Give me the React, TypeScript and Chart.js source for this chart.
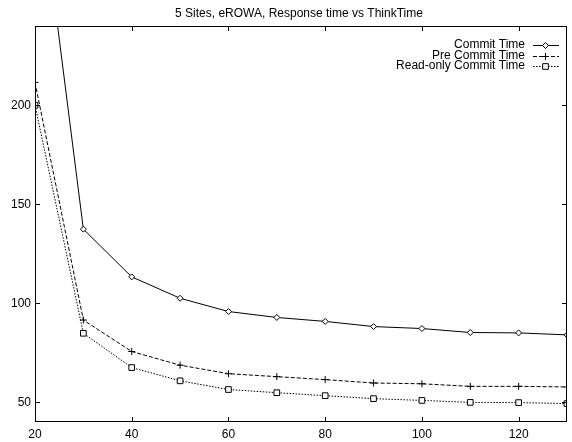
import React, { useEffect, useRef } from 'react';
import { Chart, registerables } from 'chart.js';

Chart.register(...registerables);

const TITLE = '5 Sites, eROWA, Response time vs ThinkTime';
const thinkTimes = [20, 30, 40, 50, 60, 70, 80, 90, 100, 110, 120, 130];
const commitTime = [330, 137.4, 113.3, 102.5, 95.8, 92.8, 90.8, 88.2, 87.2, 85.2, 85.0, 84.0];
const preCommitTime = [211.5, 91.5, 75.6, 68.7, 64.4, 62.9, 61.4, 59.7, 59.3, 58.0, 58.0, 57.7];
const readOnlyCommitTime = [200, 84.8, 67.5, 60.8, 56.4, 54.8, 53.3, 51.8, 50.9, 49.9, 49.8, 49.3];
const xTicks = [20, 40, 60, 80, 100, 120];
const yTicks = [50, 100, 150, 200];
const seriesLabels = ['Commit Time', 'Pre Commit Time', 'Read-only Commit Time'];
const seriesValues = [commitTime, preCommitTime, readOnlyCommitTime];

const FONT = "'Liberation Sans', Arial, Helvetica, sans-serif";
const FS = 12;
const pointStyles = ['rectRot', 'cross', 'rect'];
const pointRadii = [3, 3.5, 4];
const dashes: number[][] = [[], [4, 2], [1.5, 1.5]];

function drawMarker(ctx: CanvasRenderingContext2D, style: string, x: number, y: number, r: number) {
  ctx.save();
  ctx.setLineDash([]);
  ctx.beginPath();
  if (style === 'rectRot') {
    ctx.moveTo(x, y - r);
    ctx.lineTo(x + r, y);
    ctx.lineTo(x, y + r);
    ctx.lineTo(x - r, y);
    ctx.closePath();
    ctx.fillStyle = '#fff';
    ctx.fill();
  } else if (style === 'cross') {
    ctx.moveTo(x - r, y);
    ctx.lineTo(x + r, y);
    ctx.moveTo(x, y - r);
    ctx.lineTo(x, y + r);
  } else {
    const s = r * Math.SQRT1_2;
    ctx.rect(x - s, y - s, 2 * s, 2 * s);
    ctx.fillStyle = '#fff';
    ctx.fill();
  }
  ctx.stroke();
  ctx.restore();
}

const framePlugin = {
  id: 'gnuFrame',
  afterDraw(chart: any) {
    const { ctx, chartArea } = chart;
    const { left, right, top, bottom } = chartArea;
    const xs = chart.scales.x;
    const ys = chart.scales.y;
    ctx.save();
    ctx.strokeStyle = '#000';
    ctx.lineWidth = 1;
    ctx.setLineDash([]);
    ctx.strokeRect(left + 0.5, top + 0.5, right - left - 1, bottom - top - 1);
    const tl = 5;
    ctx.beginPath();
    xTicks.forEach((v) => {
      const px = Math.round(xs.getPixelForValue(v)) + 0.5;
      ctx.moveTo(px, bottom);
      ctx.lineTo(px, bottom - tl);
      ctx.moveTo(px, top);
      ctx.lineTo(px, top + tl);
    });
    yTicks.forEach((v) => {
      const py = Math.round(ys.getPixelForValue(v)) + 0.5;
      ctx.moveTo(left, py);
      ctx.lineTo(left + tl, py);
      ctx.moveTo(right, py);
      ctx.lineTo(right - tl, py);
    });
    ctx.stroke();

    // title
    ctx.fillStyle = '#000';
    ctx.font = `${FS}px ${FONT}`;
    ctx.textAlign = 'center';
    ctx.textBaseline = 'middle';
    ctx.fillText(TITLE, 299, 14);

    // key
    seriesLabels.forEach((label, i) => {
      const y = 45 + i * 10.5;
      ctx.textAlign = 'right';
      ctx.fillText(label, 525, y);
      const ly = Math.round(y) + 0.5;
      ctx.beginPath();
      ctx.setLineDash(dashes[i]);
      ctx.moveTo(533, ly);
      ctx.lineTo(559, ly);
      ctx.stroke();
      drawMarker(ctx, pointStyles[i], 545.5, ly, pointRadii[i]);
    });
    ctx.restore();
  },
};

export default function App() {
  const ref = useRef<HTMLCanvasElement | null>(null);
  useEffect(() => {
    document.body.style.margin = '0';
    const canvas = ref.current;
    if (!canvas) return;
    const datasets = seriesLabels.map((label, i) => ({
      label,
      data: thinkTimes.map((t, j) => ({ x: t, y: seriesValues[i][j] })),
      borderColor: '#000',
      backgroundColor: '#fff',
      borderWidth: 1,
      borderDash: dashes[i],
      pointStyle: pointStyles[i],
      pointRadius: pointRadii[i],
      pointBorderColor: '#000',
      pointBackgroundColor: '#fff',
      pointBorderWidth: 1,
      tension: 0,
      fill: false,
    }));
    const chart = new Chart(canvas, {
      type: 'line',
      data: { datasets },
      plugins: [framePlugin],
      options: {
        animation: false,
        responsive: false,
        devicePixelRatio: 1,
        layout: { padding: { top: 26, right: 1, left: 0, bottom: 0 } },
        plugins: { legend: { display: false }, title: { display: false }, tooltip: { enabled: false } },
        scales: {
          x: {
            type: 'linear',
            min: 20,
            max: 130,
            afterBuildTicks: (s: any) => { s.ticks = xTicks.map((v) => ({ value: v })); },
            afterFit: (s: any) => { s.height = 20; },
            grid: { display: false, drawTicks: false },
            border: { display: false },
            ticks: { color: '#000', font: { family: FONT, size: FS }, padding: 5, maxRotation: 0, autoSkip: false },
          },
          y: {
            type: 'linear',
            min: 40,
            max: 240,
            afterBuildTicks: (s: any) => { s.ticks = yTicks.map((v) => ({ value: v })); },
            afterFit: (s: any) => { s.width = 35; },
            grid: { display: false, drawTicks: false },
            border: { display: false },
            ticks: { color: '#000', font: { family: FONT, size: FS }, padding: 4 },
          },
        },
      },
    });
    return () => chart.destroy();
  }, []);
  return (
    <div style={{ width: 572, height: 442 }}>
      <canvas ref={ref} width={572} height={442} style={{ display: 'block' }} />
    </div>
  );
}
